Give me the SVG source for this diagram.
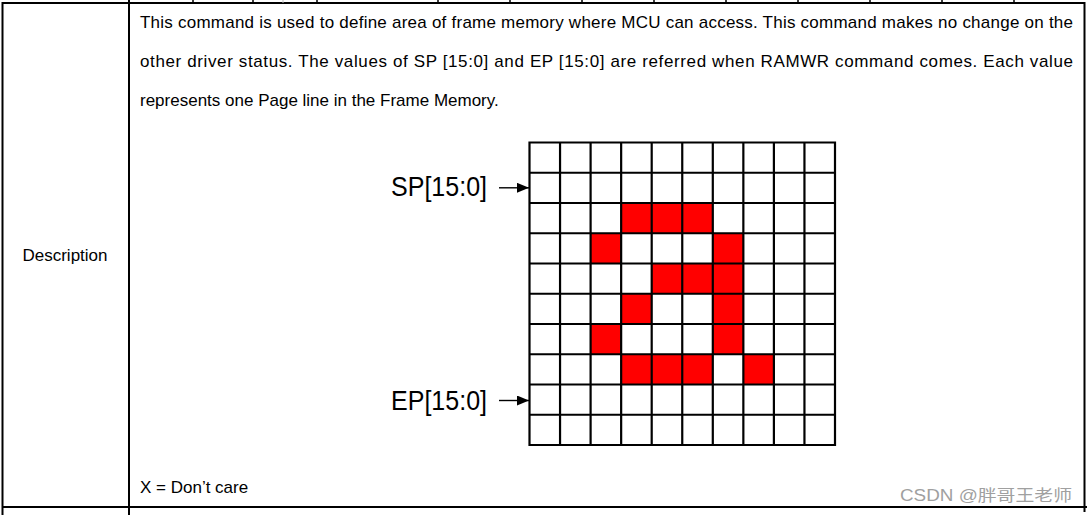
<svg xmlns="http://www.w3.org/2000/svg" width="1087" height="515" viewBox="0 0 1087 515">
<defs>
<style>
.ln{stroke:#000;stroke-width:2;fill:none}
.tick{stroke:#000;stroke-width:1.5}
.t{font-family:"Liberation Sans",Arial,sans-serif;font-size:17px;fill:#000}
.big{font-family:"Liberation Sans",Arial,sans-serif;font-size:28px;fill:#000}
.red{fill:#ff0000}
.grid{stroke:#000;stroke-width:2.2;fill:none}
.arr{stroke:#000;stroke-width:1.4;fill:none}
.wm{font-family:"Liberation Sans","Noto Sans CJK SC",sans-serif;font-size:16px;fill:#a0a0a0}
</style>
<marker id="ah" markerUnits="userSpaceOnUse" markerWidth="13" markerHeight="11" refX="12" refY="5" orient="auto">
<path d="M0,0 L12,5 L0,10 z" fill="#000"/>
</marker>
</defs>
<rect width="1087" height="515" fill="#fff"/>
<g id="table">
<path class="ln" d="M2,3 H1085 M2.5,2 V515 M129,0 V515 M1084.5,2 V512 M2,507 H1087"/>
<path class="tick" d="M193,0 V3 M253,0 V3 M317,0 V3 M438,0 V3 M510,0 V3 M582,0 V3 M654,0 V3 M726,0 V3 M798,0 V3 M870,0 V3 M942,0 V3 M1014,0 V3"/>
<path d="M283,0 V3" stroke="#bbb" stroke-width="1"/>
</g>
<g id="label-description">
<text class="t" x="65" y="261" text-anchor="middle">Description</text>
</g>
<g id="body-text">
<text class="t" x="140" y="28" textLength="933" lengthAdjust="spacing">This command is used to define area of frame memory where MCU can access. This command makes no change on the</text>
<text class="t" x="140" y="67" textLength="933" lengthAdjust="spacing">other driver status. The values of SP [15:0] and EP [15:0] are referred when RAMWR command comes. Each value</text>
<text class="t" x="140" y="106">represents one Page line in the Frame Memory.</text>
<text class="t" x="140" y="493">X = Don’t care</text>
</g>
<g id="frame-grid">
<rect class="red" x="621.15" y="203" width="91.65" height="30.25"/>
<rect class="red" x="590.6" y="233.25" width="30.55" height="30.25"/>
<rect class="red" x="712.8" y="233.25" width="30.55" height="30.25"/>
<rect class="red" x="651.7" y="263.5" width="91.65" height="30.25"/>
<rect class="red" x="621.15" y="293.75" width="30.55" height="30.25"/>
<rect class="red" x="712.8" y="293.75" width="30.55" height="30.25"/>
<rect class="red" x="590.6" y="324" width="30.55" height="30.25"/>
<rect class="red" x="712.8" y="324" width="30.55" height="30.25"/>
<rect class="red" x="621.15" y="354.25" width="91.65" height="30.25"/>
<rect class="red" x="743.35" y="354.25" width="30.55" height="30.25"/>
<path class="grid" d="M529.5,142.5 V445 M560.05,142.5 V445 M590.6,142.5 V445 M621.15,142.5 V445 M651.7,142.5 V445 M682.25,142.5 V445 M712.8,142.5 V445 M743.35,142.5 V445 M773.9,142.5 V445 M804.45,142.5 V445 M835,142.5 V445 M528.4,142.5 H836.1 M528.4,172.75 H836.1 M528.4,203 H836.1 M528.4,233.25 H836.1 M528.4,263.5 H836.1 M528.4,293.75 H836.1 M528.4,324 H836.1 M528.4,354.25 H836.1 M528.4,384.5 H836.1 M528.4,414.75 H836.1 M528.4,445 H836.1"/>
</g>
<g id="sp-label">
<text class="big" x="391" y="196" textLength="96" lengthAdjust="spacingAndGlyphs">SP[15:0]</text>
</g>
<g id="ep-label">
<text class="big" x="391" y="409.5" textLength="96" lengthAdjust="spacingAndGlyphs">EP[15:0]</text>
</g>
<g id="connectors">
<path class="arr" d="M499,187.8 H529" marker-end="url(#ah)"/>
<path class="arr" d="M499,400.5 H529" marker-end="url(#ah)"/>
</g>
<g id="watermark">
<text class="wm" x="900" y="501" textLength="172" lengthAdjust="spacingAndGlyphs">CSDN @胖哥王老师</text>
</g>
</svg>
